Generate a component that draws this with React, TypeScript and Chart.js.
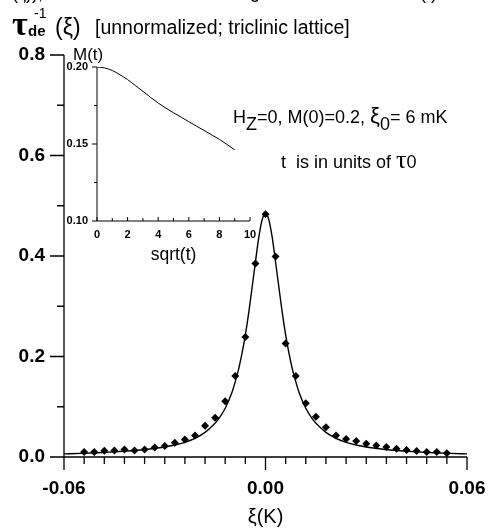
import React, { useEffect, useRef } from 'react';
import { Chart, registerables } from 'chart.js';

Chart.register(...registerables);

const SANS = '"Liberation Sans", Arial, Helvetica, sans-serif';
const SERIF = '"Liberation Serif", "Times New Roman", serif';

// ---- Main panel: relaxation rate vs xi ----
const markerXi = [
  -0.054, -0.051, -0.048, -0.045, -0.042, -0.039, -0.036, -0.033, -0.03, -0.027,
  -0.024, -0.021, -0.018, -0.015, -0.012, -0.009, -0.006, -0.003, 0, 0.003,
  0.006, 0.009, 0.012, 0.015, 0.018, 0.021, 0.024, 0.027, 0.03, 0.033,
  0.036, 0.039, 0.042, 0.045, 0.048, 0.051, 0.054,
];
const markerRate = [
  0.010, 0.010, 0.0125, 0.013, 0.015, 0.013, 0.015, 0.019, 0.022, 0.0285,
  0.035, 0.043, 0.062, 0.078, 0.111, 0.161, 0.239, 0.385, 0.483, 0.399,
  0.226, 0.161, 0.107, 0.080, 0.059, 0.043, 0.036, 0.032, 0.0265, 0.023,
  0.020, 0.0166, 0.014, 0.012, 0.010, 0.010, 0.0075,
];

const fitXi = [
  -0.06, -0.055, -0.05, -0.045, -0.04, -0.035, -0.03, -0.027, -0.024, -0.021,
  -0.018, -0.016, -0.014, -0.012, -0.01, -0.009, -0.008, -0.007, -0.006, -0.005,
  -0.004, -0.003, -0.002, -0.001, 0, 0.001, 0.002, 0.003, 0.004, 0.005,
  0.006, 0.007, 0.008, 0.009, 0.01, 0.012, 0.014, 0.016, 0.018, 0.021,
  0.024, 0.027, 0.03, 0.035, 0.04, 0.045, 0.05, 0.055, 0.06,
];
const fitRate = [
  0.0062, 0.0072, 0.0085, 0.0102, 0.0125, 0.0155, 0.0198, 0.0238, 0.0292, 0.037,
  0.049, 0.0605, 0.0755, 0.097, 0.1285, 0.15, 0.175, 0.206, 0.243, 0.287,
  0.337, 0.388, 0.437, 0.472, 0.486, 0.472, 0.437, 0.388, 0.337, 0.287,
  0.243, 0.206, 0.175, 0.15, 0.1285, 0.097, 0.0755, 0.0605, 0.049, 0.037,
  0.0292, 0.0238, 0.0198, 0.0155, 0.0125, 0.0102, 0.0085, 0.0072, 0.0062,
];

const mainXRange = [-0.06, 0.06];
const mainYRange = [0, 0.8];
const mainXTickLabels = [-0.06, 0, 0.06];
const mainYTickLabels = [0, 0.2, 0.4, 0.6, 0.8];
const mainXMinorStep = 0.006;
const mainYMinorStep = 0.1;

// ---- Inset: M(t) vs sqrt(t) ----
const insetSqrtT = [0, 0.5, 1, 1.5, 2, 2.5, 3, 3.5, 4, 4.5, 5, 5.5, 6, 6.5, 7, 7.5, 8, 8.5, 9];
const insetM = [
  0.2, 0.1994, 0.1977, 0.195, 0.1918, 0.188, 0.1842, 0.1803, 0.1766, 0.1733,
  0.1703, 0.1674, 0.1645, 0.1616, 0.1588, 0.1559, 0.153, 0.1497, 0.1462,
];
const insetXRange = [0, 10];
const insetYRange = [0.1, 0.2];
const insetXTickLabels = [0, 2, 4, 6, 8, 10];
const insetYTickLabels = [0.1, 0.15, 0.2];
const insetXMinorStep = 1;
const insetYMinorStep = 0.025;

const mainAxesPlugin = {
  id: 'mainAxes',
  afterDraw(chart: any) {
    const { ctx } = chart;
    const xs = chart.scales.x;
    const ys = chart.scales.y;
    const x0 = xs.getPixelForValue(mainXRange[0]);
    const x1 = xs.getPixelForValue(mainXRange[1]);
    const y0 = ys.getPixelForValue(mainYRange[0]);
    const yTop = ys.getPixelForValue(mainYRange[1]);
    ctx.save();
    ctx.strokeStyle = '#000';
    ctx.lineWidth = 1.3;
    ctx.beginPath();
    ctx.moveTo(x0, yTop);
    ctx.lineTo(x0, y0 + 13);
    ctx.moveTo(x0, y0);
    ctx.lineTo(x1, y0);
    const ny = Math.round((mainYRange[1] - mainYRange[0]) / mainYMinorStep);
    for (let i = 0; i <= ny; i++) {
      const y = ys.getPixelForValue(mainYRange[0] + i * mainYMinorStep);
      const len = i % 2 === 0 ? 14 : 7;
      ctx.moveTo(x0 - len, y);
      ctx.lineTo(x0, y);
    }
    const nx = Math.round((mainXRange[1] - mainXRange[0]) / mainXMinorStep);
    for (let i = 0; i <= nx; i++) {
      const x = xs.getPixelForValue(mainXRange[0] + i * mainXMinorStep);
      const len = i % 10 === 0 ? 13 : 7;
      ctx.moveTo(x, y0);
      ctx.lineTo(x, y0 + len);
    }
    ctx.stroke();
    ctx.restore();
  },
};

const insetAxesPlugin = {
  id: 'insetAxes',
  afterDraw(chart: any) {
    const { ctx } = chart;
    const xs = chart.scales.x;
    const ys = chart.scales.y;
    const x0 = xs.getPixelForValue(insetXRange[0]);
    const x1 = xs.getPixelForValue(insetXRange[1]);
    const y0 = ys.getPixelForValue(insetYRange[0]);
    const yTop = ys.getPixelForValue(insetYRange[1]);
    ctx.save();
    ctx.strokeStyle = '#000';
    ctx.lineWidth = 1;
    ctx.beginPath();
    ctx.moveTo(x0, yTop);
    ctx.lineTo(x0, y0);
    ctx.moveTo(x0, y0);
    ctx.lineTo(x1, y0);
    const ny = Math.round((insetYRange[1] - insetYRange[0]) / insetYMinorStep);
    for (let i = 0; i <= ny; i++) {
      const y = ys.getPixelForValue(insetYRange[0] + i * insetYMinorStep);
      const len = i % 2 === 0 ? 5 : 3;
      ctx.moveTo(x0 - len, y);
      ctx.lineTo(x0, y);
    }
    const nx = Math.round((insetXRange[1] - insetXRange[0]) / insetXMinorStep);
    for (let i = 0; i <= nx; i++) {
      const x = xs.getPixelForValue(insetXRange[0] + i * insetXMinorStep);
      const len = i % 2 === 0 ? 4 : 3;
      ctx.moveTo(x, y0);
      ctx.lineTo(x, y0 - len);
    }
    ctx.stroke();
    ctx.restore();
  },
};

function Txt(props: { x: number; base: number; size: number; serif?: boolean; bold?: boolean; children: any; style?: any }) {
  const { x, base, size, serif, bold, children, style } = props;
  const k = serif ? 0.8375 : 0.8465;
  return (
    <div
      style={{
        position: 'absolute',
        left: x,
        top: base - k * size,
        fontSize: size,
        lineHeight: size + 'px',
        fontFamily: serif ? SERIF : SANS,
        fontWeight: bold ? 'bold' : 'normal',
        whiteSpace: 'pre',
        color: '#000',
        ...(style || {}),
      }}
    >
      {children}
    </div>
  );
}

const spanBase = { lineHeight: '1px' };
const sub = { ...spanBase, position: 'relative' as const, top: 7 };

export default function App() {
  const mainRef = useRef<HTMLCanvasElement>(null);
  const insetRef = useRef<HTMLCanvasElement>(null);

  useEffect(() => {
    const main = new Chart(mainRef.current as HTMLCanvasElement, {
      type: 'line',
      data: {
        datasets: [
          {
            data: fitXi.map((x, i) => ({ x, y: fitRate[i] })),
            borderColor: '#000',
            borderWidth: 1.4,
            pointRadius: 0,
            cubicInterpolationMode: 'monotone',
            fill: false,
          },
          {
            data: markerXi.map((x, i) => ({ x, y: markerRate[i] })),
            showLine: false,
            pointStyle: 'rectRot',
            pointRadius: 4,
            backgroundColor: '#000',
            borderColor: '#000',
            borderWidth: 0,
          },
        ],
      },
      options: {
        animation: false,
        responsive: false,
        maintainAspectRatio: false,
        events: [],
        layout: { padding: { top: 55, right: 23, left: 0, bottom: 0 } },
        plugins: { legend: { display: false }, tooltip: { enabled: false }, title: { display: false } },
        scales: {
          x: {
            type: 'linear',
            min: mainXRange[0],
            max: mainXRange[1],
            grid: { display: false, drawTicks: false },
            border: { display: false },
            afterBuildTicks: (s: any) => {
              s.ticks = mainXTickLabels.map((v) => ({ value: v }));
            },
            afterFit: (s: any) => {
              s.height = 74;
              s.paddingLeft = 0;
              s.paddingRight = 0;
            },
            ticks: {
              padding: 20,
              color: '#000',
              font: { family: SANS, weight: 'bold', size: 19 },
              maxRotation: 0,
              callback: (v: any) => Number(v).toFixed(2),
            },
            title: {
              display: true,
              text: 'ξ(K)',
              color: '#000',
              font: { family: SANS, size: 20 },
              padding: { top: 0, bottom: 2 },
            },
          },
          y: {
            type: 'linear',
            min: mainYRange[0],
            max: mainYRange[1],
            grid: { display: false, drawTicks: false },
            border: { display: false },
            afterBuildTicks: (s: any) => {
              s.ticks = mainYTickLabels.map((v) => ({ value: v }));
            },
            afterFit: (s: any) => {
              s.width = 64;
              s.paddingTop = 0;
              s.paddingBottom = 0;
            },
            ticks: {
              padding: 19,
              color: '#000',
              font: { family: SANS, weight: 'bold', size: 19 },
              callback: (v: any) => Number(v).toFixed(1),
            },
          },
        },
      } as any,
      plugins: [mainAxesPlugin],
    });

    const inset = new Chart(insetRef.current as HTMLCanvasElement, {
      type: 'line',
      data: {
        datasets: [
          {
            data: insetSqrtT.map((x, i) => ({ x, y: insetM[i] })),
            borderColor: '#000',
            borderWidth: 1,
            pointRadius: 0,
            cubicInterpolationMode: 'monotone',
            fill: false,
          },
        ],
      },
      options: {
        animation: false,
        responsive: false,
        maintainAspectRatio: false,
        events: [],
        layout: { padding: { top: 67, right: 240, left: 0, bottom: 265 } },
        plugins: { legend: { display: false }, tooltip: { enabled: false } },
        scales: {
          x: {
            type: 'linear',
            min: insetXRange[0],
            max: insetXRange[1],
            grid: { display: false, drawTicks: false },
            border: { display: false },
            afterBuildTicks: (s: any) => {
              s.ticks = insetXTickLabels.map((v) => ({ value: v }));
            },
            afterFit: (s: any) => {
              s.height = 45;
              s.paddingLeft = 0;
              s.paddingRight = 0;
            },
            ticks: {
              padding: 7,
              color: '#000',
              font: { family: SANS, weight: 'bold', size: 11 },
              maxRotation: 0,
              callback: (v: any) => String(v),
            },
            title: {
              display: true,
              text: 'sqrt(t)',
              color: '#000',
              font: { family: SANS, size: 17.5 },
              padding: { top: 0, bottom: 0 },
            },
          },
          y: {
            type: 'linear',
            min: insetYRange[0],
            max: insetYRange[1],
            grid: { display: false, drawTicks: false },
            border: { display: false },
            afterBuildTicks: (s: any) => {
              s.ticks = insetYTickLabels.map((v) => ({ value: v }));
            },
            afterFit: (s: any) => {
              s.width = 97;
              s.paddingTop = 0;
              s.paddingBottom = 0;
            },
            ticks: {
              padding: 9,
              color: '#000',
              font: { family: SANS, weight: 'bold', size: 11 },
              callback: (v: any) => Number(v).toFixed(2),
            },
          },
        },
      } as any,
      plugins: [insetAxesPlugin],
    });

    return () => {
      main.destroy();
      inset.destroy();
    };
  }, []);

  return (
    <div
      style={{
        position: 'absolute',
        left: 0,
        top: 0,
        width: 490,
        height: 531,
        background: '#fff',
        overflow: 'hidden',
        fontFamily: SANS,
        color: '#000',
      }}
    >
      <canvas ref={mainRef} width={490} height={531} style={{ position: 'absolute', left: 0, top: 0, width: 490, height: 531 }} />
      <canvas ref={insetRef} width={490} height={531} style={{ position: 'absolute', left: 0, top: 0, width: 490, height: 531 }} />

      {/* clipped caption fragments at the very top */}
      <Txt x={12} base={-1} size={18}>(ξ)),</Txt>
      <Txt x={250} base={-2} size={18}>g</Txt>
      <Txt x={420} base={-1} size={18}>(t)</Txt>

      {/* panel title */}
      <Txt x={12} base={35} size={34} serif bold>τ</Txt>
      <Txt x={34} base={18} size={14}>-1</Txt>
      <Txt x={28} base={36} size={15} bold>de</Txt>
      <Txt x={55} base={35} size={23}>(ξ)</Txt>
      <Txt x={95} base={35} size={19.5}>[unnormalized; triclinic lattice]</Txt>

      {/* inset y title */}
      <Txt x={73} base={60} size={17}>M(t)</Txt>

      {/* annotations */}
      <Txt x={233} base={123} size={18}>
        H<span style={sub}>Z</span>
        <span style={spanBase}>=0, M(0)=0.2, </span>
        <span style={{ ...spanBase, fontSize: 22 }}>ξ</span>
        <span style={sub}>0</span>
        <span style={spanBase}>= 6 mK</span>
      </Txt>
      <Txt x={281} base={168} size={18}>
        {'t  is in units of '}
        <span style={{ ...spanBase, fontSize: 26, fontFamily: SERIF }}>τ</span>
        <span style={spanBase}>0</span>
      </Txt>
    </div>
  );
}
